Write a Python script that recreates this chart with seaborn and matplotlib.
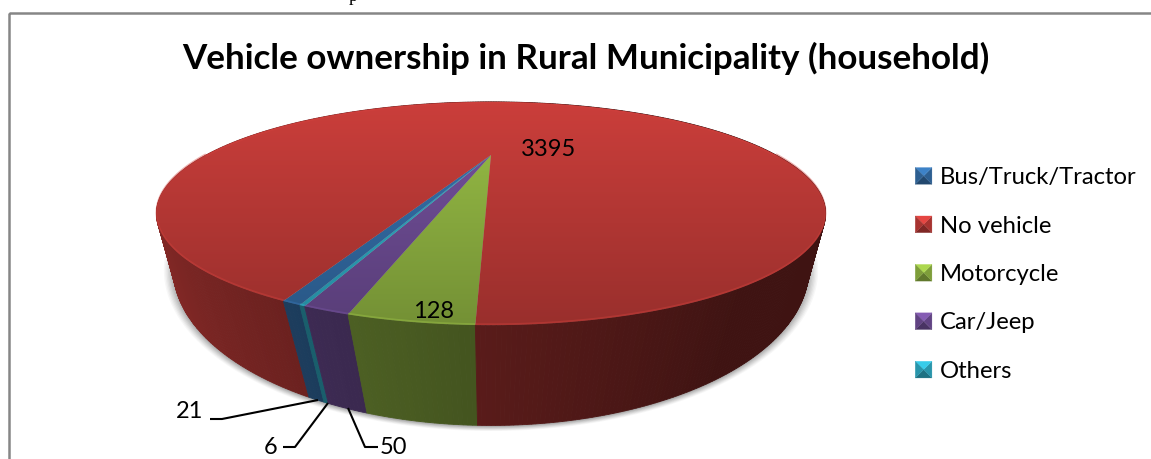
import numpy as np
import matplotlib
matplotlib.use("Agg")
import matplotlib.pyplot as plt
import seaborn as sns
from matplotlib.legend_handler import HandlerBase
from matplotlib.patches import Patch, Polygon, Rectangle

# Household counts, in the clockwise drawing order of the pie
categories = ["Bus/Truck/Tractor", "No vehicle", "Motorcycle", "Car/Jeep", "Others"]
households = [21, 3395, 128, 50, 6]
face_colors = ["#2f6499", "#b03633", "#85a63d", "#66478a", "#2a9db4"]
title_text = "Vehicle ownership in Rural Municipality (household)"

sns.set_theme(style="white")
plt.rcParams["font.family"] = ["Lato", "DejaVu Sans"]
palette = sns.color_palette(face_colors)

fig = plt.figure(figsize=(11.51, 4.59), dpi=100)
ax = fig.add_axes([0, 0, 1, 1])
ax.set_xlim(0, 1151)
ax.set_ylim(459, 0)
ax.axis("off")

CX = 491
TOP_DISC = dict(a=285, b=81, k=0.524, y0=155)
BASE_DISC = dict(a=284, b=125, k=0.448, y0=199)
START = np.deg2rad(1.5)  # first boundary after "No vehicle", measured from straight down


def project(theta, disc):
    """Perspective projection of a rim angle (clockwise from straight down)."""
    u, v = -np.sin(theta), -np.cos(theta)
    d = 1 + disc["k"] * v
    return CX + disc["a"] * u / d, disc["y0"] - disc["b"] * v / d


def shade(rgb, amount):
    return tuple(min(1, c * amount) for c in rgb)


# Slice boundaries follow from the counts: No vehicle ends at START, then clockwise
sweeps = 2 * np.pi * np.array(households) / sum(households)
order = [2, 3, 4, 0, 1]
spans = {}
angle = START
for i in order:
    spans[i] = (angle, angle + sweeps[i])
    angle += sweeps[i]

# Soft drop shadow under the base
t = np.linspace(0, 2 * np.pi, 240)
for grow, alpha in zip(np.linspace(1.03, 1.0, 8), np.linspace(0.03, 0.07, 8)):
    bx, by = project(t, BASE_DISC)
    ax.fill(CX + (bx - CX) * grow, 272 + (by - 272) * grow + 1, color="black",
            alpha=alpha, lw=0, zorder=1)

# Outer wall, shaded from left to right in thin vertical strips
strips = []
for i in order:
    a0, a1 = spans[i]
    n = max(3, int(np.degrees(a1 - a0)) * 2)
    edges = np.linspace(a0, a1, n + 1)
    for e0, e1 in zip(edges[:-1], edges[1:]):
        strips.append((np.cos(0.5 * (e0 + e1)), e0, e1, i))
strips.sort(key=lambda s: s[0])
for c, e0, e1, i in strips:
    x0, y0 = project(e0, TOP_DISC)
    x1, y1 = project(e1, TOP_DISC)
    x2, y2 = project(e1, BASE_DISC)
    x3, y3 = project(e0, BASE_DISC)
    u = -np.sin(0.5 * (e0 + e1))
    amount = max(0.36, 0.50 - 0.30 * u)
    col = shade(palette[i], amount)
    ax.add_patch(Polygon([(x0, y0), (x1, y1), (x2, y2), (x3, y3)], closed=True,
                         facecolor=col, edgecolor=col, lw=0.6, zorder=2))

# Top surface, each slice lit by a vertical gradient
for i in order:
    a0, a1 = spans[i]
    rim = np.linspace(a0, a1, max(4, int(np.degrees(a1 - a0)) * 2))
    rx, ry = project(rim, TOP_DISC)
    apex = (CX, TOP_DISC["y0"])
    poly = Polygon(np.column_stack([np.r_[apex[0], rx], np.r_[apex[1], ry]]),
                   closed=True, facecolor="none", edgecolor="none",
                   transform=ax.transData, zorder=3)
    ax.add_patch(poly)
    ys = np.linspace(1.16, 0.86, 64)[:, None, None]
    grad = np.clip(ys * np.array(palette[i])[None, None, :], 0, 1)
    im = ax.imshow(grad, extent=[150, 830, 335, 95], aspect="auto", zorder=3,
                   interpolation="bilinear")
    im.set_clip_path(poly)
    # Bevelled highlight just inside the rim
    ax.plot(rx, ry - np.sign(ry - apex[1]) * 1.0, color=shade(palette[i], 1.2), lw=1.2, alpha=0.4,
            solid_capstyle="butt", zorder=4)
ax.set_xlim(0, 1151)
ax.set_ylim(459, 0)

# Value labels
label_style = dict(ha="center", va="center", fontsize=17, color="black", zorder=6)
ax.text(549, 149, str(households[1]), **label_style)
ax.text(434, 311, str(households[2]), **label_style)
ax.text(190, 412, str(households[0]), **label_style)
ax.text(271, 447, str(households[4]), **label_style)
ax.text(393, 447, str(households[3]), **label_style)

# Leader lines to the small slices
leader_style = dict(color="black", lw=1.5, solid_capstyle="butt", zorder=6)
ax.plot([210, 222, 318], [419, 419, 400], **leader_style)
ax.plot([283, 295, 328], [447, 447, 403], **leader_style)
ax.plot([378, 365, 348], [447, 447, 408], **leader_style)

# Chart frame and title
ax.add_patch(Rectangle((9, 12.5), 1160, 460, facecolor="none", edgecolor="#868686", lw=1.8, zorder=7))
ax.text(585.5, 58, title_text, ha="center", va="center", fontsize=25.2, fontweight="bold",
        color="black", zorder=6)

# Tail of the line of body text that runs along the top edge
ax.text(349, 1, "p", ha="left", va="baseline", fontsize=13, family="Liberation Serif", color="black")


class PyramidHandler(HandlerBase):
    """Legend key drawn as a small bevelled square."""

    def create_artists(self, legend, orig, xd, yd, w, h, fontsize, trans):
        s = 12
        x0, y0 = (w - s) / 2 - xd, (h - s) / 2 - yd
        base = orig.get_facecolor()[:3]
        c = (x0 + s / 2, y0 + s / 2)
        corners = [(x0, y0), (x0 + s, y0), (x0 + s, y0 + s), (x0, y0 + s)]
        tones = [0.72, 0.95, 1.3, 0.95]  # bottom, right, top, left
        return [Polygon([corners[k], corners[(k + 1) % 4], c], closed=True,
                        facecolor=shade(base, tones[k]), edgecolor=shade(base, tones[k]),
                        lw=0.2, transform=trans)
                for k in range(4)]


handles = [Patch(facecolor=col, label=name) for col, name in zip(palette, categories)]
ax.legend(handles=handles, loc="center left", bbox_to_anchor=(915 / 1151, 1 - 273.5 / 459),
          frameon=False, fontsize=17.2, labelspacing=1.07, handlelength=0.72, handleheight=1.0,
          handletextpad=0.32, borderpad=0, borderaxespad=0, labelcolor="black",
          handler_map={Patch: PyramidHandler()})

fig.savefig("out.png", dpi=100)
